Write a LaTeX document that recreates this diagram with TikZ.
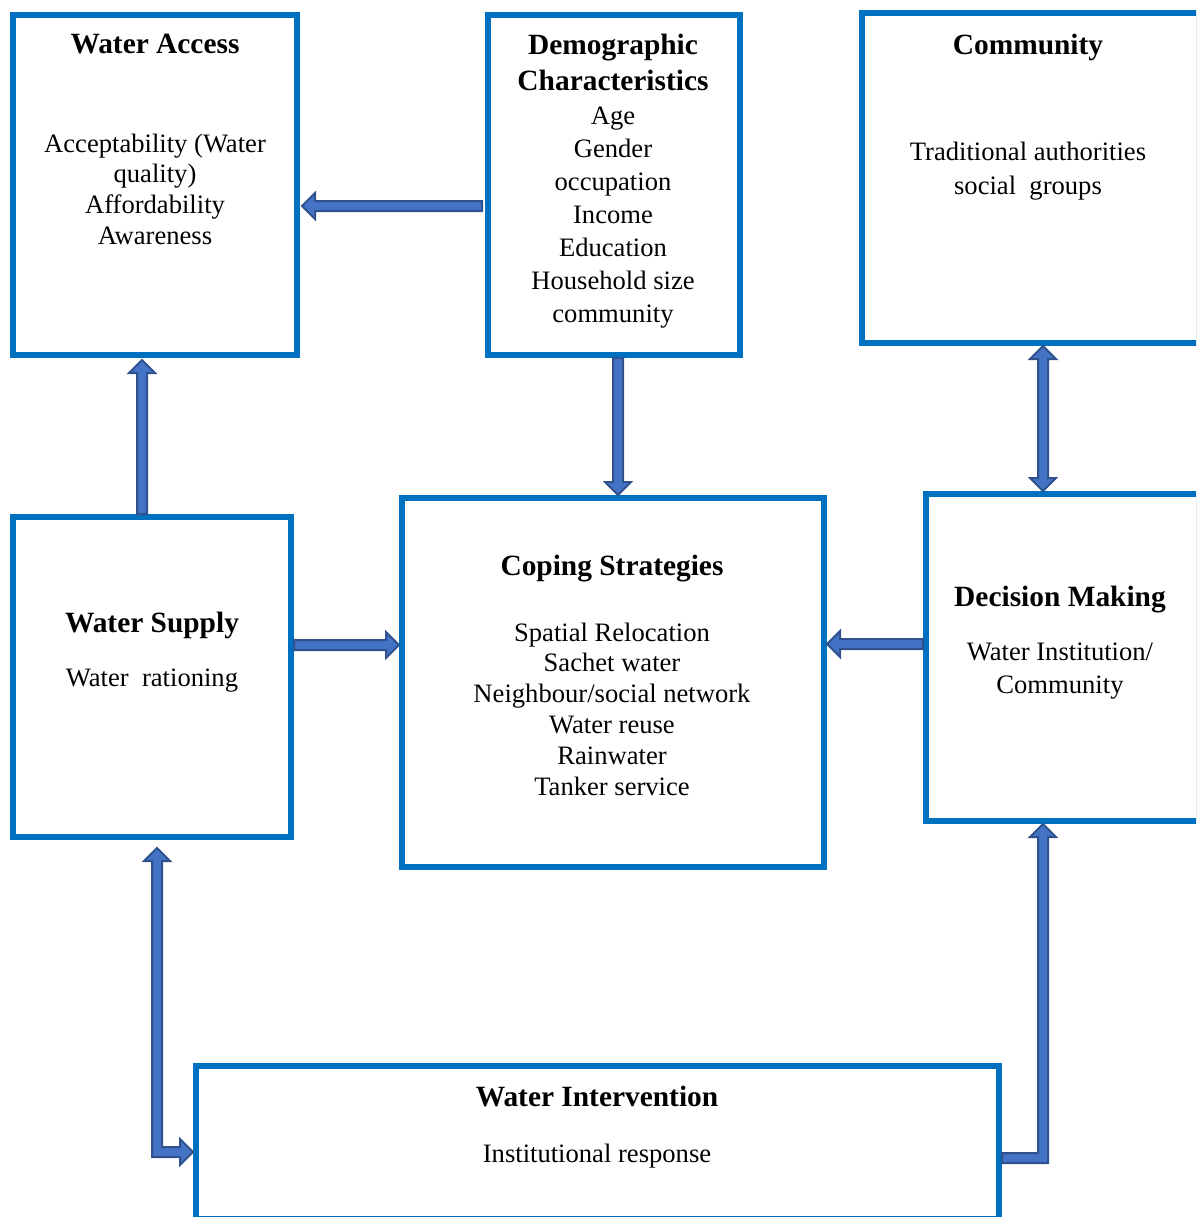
\documentclass[tikz,border=0pt]{standalone}
\usepackage{fontspec}
\setmainfont{Liberation Serif}
\usepackage{tikz}
\usetikzlibrary{calc}

\definecolor{boxLineColor}{RGB}{0,112,192}
\definecolor{arrFillColor}{RGB}{68,114,196}
\definecolor{arrLineColor}{RGB}{47,82,143}

\newcommand{\headlen}{6.5pt}
\newcommand{\headwid}{6.5pt}
\newcommand{\shaftwid}{2.5pt}

% straight block arrow from #1 to #2
\newcommand{\blockarrow}[2]{%
  \coordinate (ha) at ($(#2)!\headlen!(#1)$);
  \filldraw[arrowbody] ($(#1)!\shaftwid!90:(#2)$) -- ($(ha)!\shaftwid!90:(#2)$) -- ($(ha)!\headwid!90:(#2)$) -- (#2) -- ($(ha)!\headwid!-90:(#2)$) -- ($(ha)!\shaftwid!-90:(#2)$) -- ($(#1)!\shaftwid!-90:(#2)$) -- cycle;
}
% block arrow with two heads
\newcommand{\blockarrows}[2]{%
  \coordinate (ha) at ($(#2)!\headlen!(#1)$);
  \coordinate (hb) at ($(#1)!\headlen!(#2)$);
  \filldraw[arrowbody] (#1) -- ($(hb)!\headwid!90:(#2)$) -- ($(hb)!\shaftwid!90:(#2)$) -- ($(ha)!\shaftwid!90:(#2)$) -- ($(ha)!\headwid!90:(#2)$) -- (#2) -- ($(ha)!\headwid!-90:(#2)$) -- ($(ha)!\shaftwid!-90:(#2)$) -- ($(hb)!\shaftwid!-90:(#2)$) -- ($(hb)!\headwid!-90:(#2)$) -- cycle;
}

\begin{document}
\begin{tikzpicture}[x=0.5pt,y=-0.5pt,
  box/.style={draw=boxLineColor, line width=3pt, inner sep=0pt},
  title/.style={font=\bfseries\fontsize{14.7pt}{18pt}\selectfont, align=center, inner sep=0pt},
  body/.style={font=\fontsize{13.3pt}{#1}\selectfont, align=center, inner sep=0pt},
  body/.default=15.4pt,
  arrowbody/.style={fill=arrFillColor, draw=arrLineColor, line width=1pt, line join=miter}]
\useasboundingbox (0,0) rectangle (1196,1217);
\clip (0,0) rectangle (1196,1217);

% boxes
\node[box, minimum width=142pt, minimum height=170pt] (wa) at (155,185) {};
\node[box, minimum width=126pt, minimum height=170pt] (dem) at (614,185) {};
\node[box, minimum width=168.5pt, minimum height=165pt] (com) at (1030.5,178) {};
\node[box, minimum width=139pt, minimum height=160pt] (ws) at (152,677) {};
\node[box, minimum width=211pt, minimum height=184.5pt] (cop) at (613,682.5) {};
\node[box, minimum width=136.5pt, minimum height=163.5pt] (dec) at (1062.5,657.5) {};
\node[box, minimum width=401.5pt, minimum height=76.5pt] (wi) at (597.5,1142.5) {};

% texts
\node[title] (wat) at (155,44) {Water Access};
\node[body=15.35pt] (wab) at (155,189) {Acceptability (Water\\quality)\\Affordability\\Awareness};
\node[title] (demt) at (613,62) {Demographic\\Characteristics};
\node[body=16.5pt] (demb) at (613,218) {Age\\Gender\\occupation\\Income\\Education\\Household size\\community};
\node[title] (comt) at (1028,47) {Community};
\node[body=17pt] (comb) at (1028,171) {Traditional authorities\\social\ \ groups};
\node[title] (wst) at (152,625) {Water Supply};
\node[body] (wsb) at (152,681) {Water\ \ rationing};
\node[title] (copt) at (612,569) {Coping Strategies};
\node[body=15.4pt] (copb) at (612,709) {Spatial Relocation\\Sachet water\\Neighbour/social network\\Water reuse\\Rainwater\\Tanker service};
\node[title] (dect) at (1060,600) {Decision Making};
\node[body=16.5pt] (decb) at (1060,671.5) {Water Institution/\\Community};
\node[title] (wit) at (597,1097) {Water Intervention};
\node[body] (wib) at (597,1156) {Institutional response};

% arrow ends
\coordinate (a1s) at ([xshift=-1.5pt,yshift=-10.5pt]dem.west);
\coordinate (a1e) at ([xshift=1pt,yshift=-10.5pt]wa.east);
\coordinate (a2s) at ([xshift=2pt]dem.south);
\coordinate (a2e) at ([xshift=2.5pt]cop.north);
\coordinate (a3s) at ([xshift=-5pt]ws.north);
\coordinate (a3e) at ([xshift=-6.5pt,yshift=-1pt]wa.south);
\coordinate (a4s) at ([xshift=6.25pt]com.south);
\coordinate (a4e) at ([xshift=-9.75pt]dec.north);
\coordinate (a5s) at ([yshift=16pt]ws.east);
\coordinate (a5e) at ([yshift=18.75pt]cop.west);
\coordinate (a6s) at ([yshift=6.75pt]dec.west);
\coordinate (a6e) at ([yshift=19.25pt]cop.east);
\coordinate (e1t) at ([xshift=2.5pt,yshift=-4pt]ws.south);
\coordinate (e1u) at ([yshift=-4.75pt]wi.west);
\coordinate (e2s) at ([yshift=-7.75pt]wi.east);
\coordinate (e2t) at ([xshift=-9.75pt]dec.south);

% arrows
\blockarrow{a1s}{a1e}
\blockarrow{a2s}{a2e}
\blockarrow{a3s}{a3e}
\blockarrows{a4s}{a4e}
\blockarrow{a5s}{a5e}
\blockarrow{a6s}{a6e}
\filldraw[arrowbody] (e1t) -- ++(13,13) -- ++(-8,0) |- ([shift={(-13,-5)}]e1u) -- ++(0,-8) -- (e1u) -- ++(-13,13) -- ++(0,-8) -| ([shift={(-5,13)}]e1t) -- ++(-8,0) -- cycle;
\filldraw[arrowbody] ([shift={(0,-5)}]e2s) -| ([shift={(-5,13)}]e2t) -- ++(-8,0) -- (e2t) -- ++(13,13) -- ++(-8,0) |- ([shift={(0,5)}]e2s) -- cycle;
\end{tikzpicture}
\end{document}
